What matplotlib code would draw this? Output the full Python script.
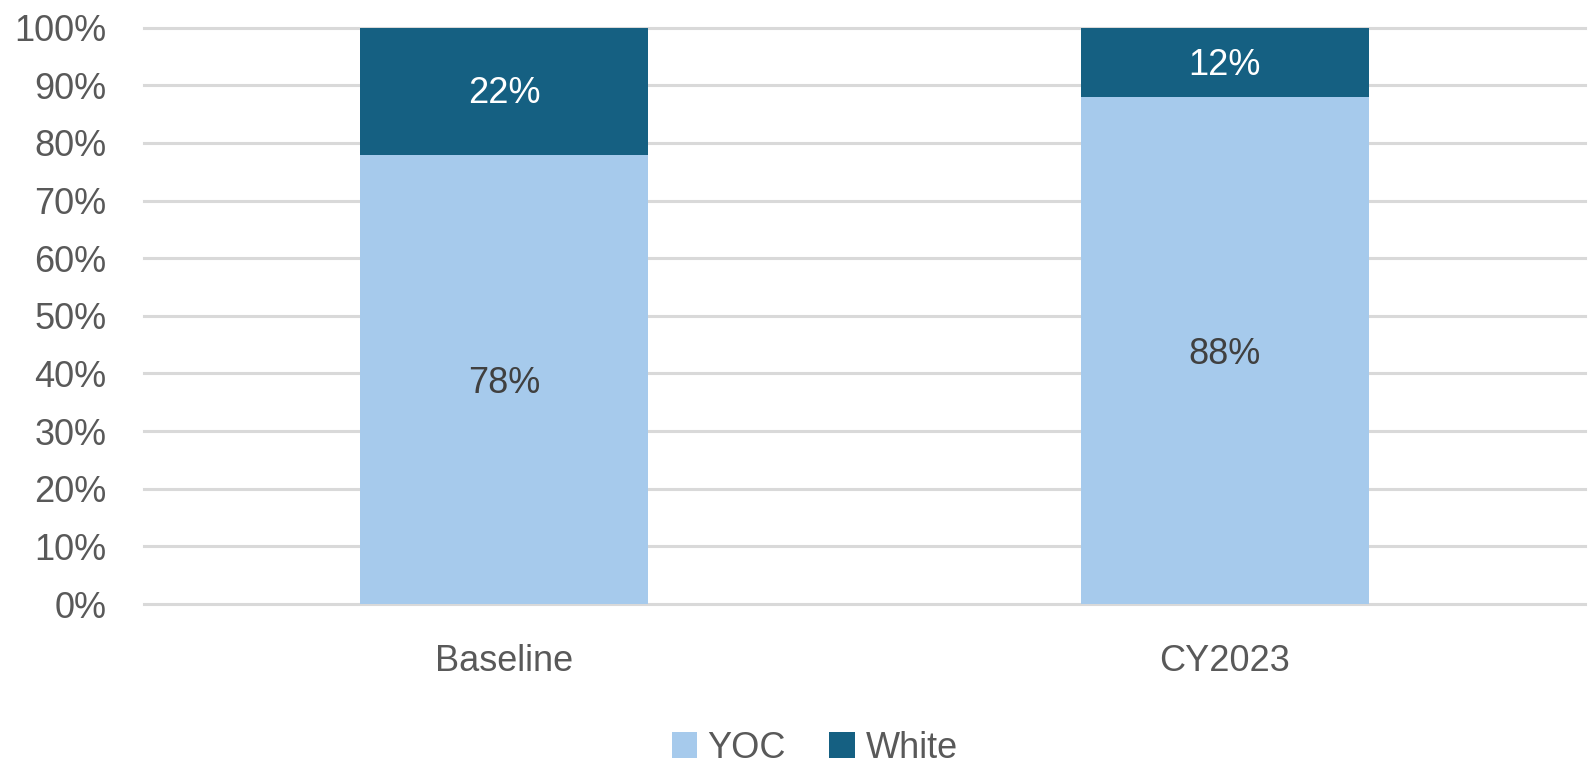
import numpy as np
import matplotlib.pyplot as plt

categories = ['Baseline', 'CY2023']
yoc = [78, 88]
white = [22, 12]

light = '#A6CAEC'
dark = '#156082'
grey_text = '#595959'

plt.rcParams['font.family'] = ['Liberation Sans', 'DejaVu Sans']

fig = plt.figure(figsize=(15.88, 7.72), dpi=100)
ax = fig.add_axes([0.0907, 0.2176, 0.9073, 0.7465])

x = np.arange(len(categories))
b1 = ax.bar(x, yoc, width=0.4, color=light, label='YOC', zorder=3)
b2 = ax.bar(x, white, width=0.4, bottom=yoc, color=dark, label='White', zorder=3)

# percentage labels centred in each segment
for i in range(len(categories)):
    ax.annotate(f'{yoc[i]}%', (x[i], yoc[i] / 2), xytext=(0, -3),
                textcoords='offset points', ha='center', va='center',
                fontsize=26, color='#404040', zorder=4)
    ax.annotate(f'{white[i]}%', (x[i], yoc[i] + white[i] / 2), xytext=(0, -2),
                textcoords='offset points', ha='center', va='center',
                fontsize=26, color='white', zorder=4)

ax.set_xlim(-0.5, 1.5)
ax.set_ylim(0, 100)
ax.set_yticks(range(0, 101, 10))
ax.set_yticklabels([f'{v}%' for v in range(0, 101, 10)])
ax.set_xticks(x)
ax.set_xticklabels(categories)
ax.yaxis.grid(True, color='#D9D9D9', linewidth=2.2, zorder=0)
for gl in ax.get_ygridlines():
    gl.set_clip_on(False)
ax.set_axisbelow(True)
for s in ax.spines.values():
    s.set_visible(False)
ax.tick_params(axis='y', length=0, pad=27, labelsize=26, labelcolor=grey_text)
ax.tick_params(axis='x', length=0, pad=29, labelsize=26, labelcolor=grey_text)

fig.legend(handles=[b1, b2], labels=['YOC', 'White'], loc='center',
           bbox_to_anchor=(0.513, 0.031), ncol=2, frameon=False,
           fontsize=26, labelcolor=grey_text, handlelength=0.7, handleheight=0.7,
           handletextpad=0.3, columnspacing=1.2)

fig.savefig('out.png', dpi=100)
